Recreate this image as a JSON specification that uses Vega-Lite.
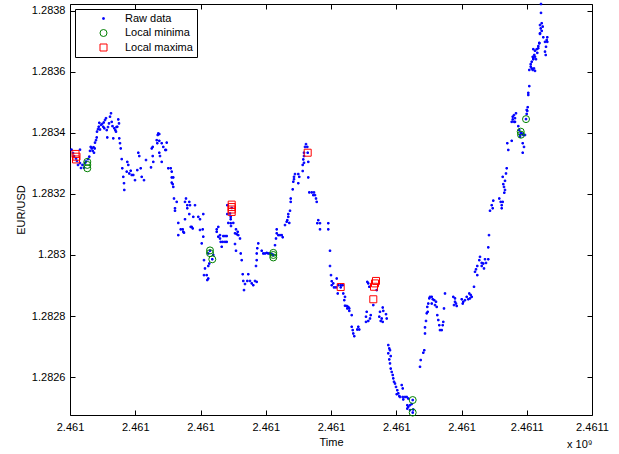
{
  "$schema": "https://vega.github.io/schema/vega-lite/v6.json",
  "width": 522,
  "height": 411,
  "autosize": {"type": "none"},
  "padding": {"left": 70, "top": 4, "right": 27, "bottom": 39},
  "background": "white",
  "config": {
    "font": "Liberation Sans",
    "view": {"stroke": "black", "strokeWidth": 1},
    "axis": {"grid": false, "domain": false, "tickSize": -5, "tickColor": "black", "tickWidth": 1, "labelFontSize": 11, "labelColor": "black", "labelFont": "Liberation Sans", "titleFont": "Liberation Sans", "titleFontSize": 11, "titleFontWeight": "normal", "titleColor": "black", "labelFlush": false, "labelOverlap": false},
    "legend": {"orient": "top-left", "offset": 5, "padding": 4, "rowPadding": 2.5, "strokeColor": "black", "fillColor": "white", "labelFontSize": 11, "labelFont": "Liberation Sans", "labelColor": "black", "symbolSize": 49, "symbolStrokeWidth": 1, "symbolOffset": 19, "labelOffset": 16, "cornerRadius": 0, "labelLimit": 300}
  },
  "data": {"values": [
    {"t":2461005150,"p":1.283345,"s":"Raw data"},
    {"t":2461005300,"p":1.283334,"s":"Raw data"},
    {"t":2461005400,"p":1.283324,"s":"Raw data"},
    {"t":2461005600,"p":1.283316,"s":"Raw data"},
    {"t":2461005700,"p":1.283308,"s":"Raw data"},
    {"t":2461005800,"p":1.283295,"s":"Raw data"},
    {"t":2461006000,"p":1.283345,"s":"Raw data"},
    {"t":2461006000,"p":1.283301,"s":"Raw data"},
    {"t":2461006100,"p":1.283285,"s":"Raw data"},
    {"t":2461006250,"p":1.283295,"s":"Raw data"},
    {"t":2461006400,"p":1.283286,"s":"Raw data"},
    {"t":2461006500,"p":1.283301,"s":"Raw data"},
    {"t":2461006600,"p":1.283306,"s":"Raw data"},
    {"t":2461006800,"p":1.283314,"s":"Raw data"},
    {"t":2461006930,"p":1.283322,"s":"Raw data"},
    {"t":2461007000,"p":1.283341,"s":"Raw data"},
    {"t":2461007070,"p":1.283354,"s":"Raw data"},
    {"t":2461007170,"p":1.283349,"s":"Raw data"},
    {"t":2461007270,"p":1.283341,"s":"Raw data"},
    {"t":2461007350,"p":1.283353,"s":"Raw data"},
    {"t":2461007400,"p":1.283335,"s":"Raw data"},
    {"t":2461007470,"p":1.283349,"s":"Raw data"},
    {"t":2461007500,"p":1.283368,"s":"Raw data"},
    {"t":2461007600,"p":1.283376,"s":"Raw data"},
    {"t":2461007670,"p":1.283385,"s":"Raw data"},
    {"t":2461007700,"p":1.283404,"s":"Raw data"},
    {"t":2461007800,"p":1.283412,"s":"Raw data"},
    {"t":2461007870,"p":1.28342,"s":"Raw data"},
    {"t":2461007930,"p":1.283433,"s":"Raw data"},
    {"t":2461008000,"p":1.283411,"s":"Raw data"},
    {"t":2461008100,"p":1.283426,"s":"Raw data"},
    {"t":2461008200,"p":1.283429,"s":"Raw data"},
    {"t":2461008330,"p":1.28342,"s":"Raw data"},
    {"t":2461008370,"p":1.283434,"s":"Raw data"},
    {"t":2461008430,"p":1.283415,"s":"Raw data"},
    {"t":2461008500,"p":1.283442,"s":"Raw data"},
    {"t":2461008600,"p":1.283448,"s":"Raw data"},
    {"t":2461008670,"p":1.283409,"s":"Raw data"},
    {"t":2461008730,"p":1.283385,"s":"Raw data"},
    {"t":2461008800,"p":1.283419,"s":"Raw data"},
    {"t":2461008900,"p":1.283431,"s":"Raw data"},
    {"t":2461009000,"p":1.283453,"s":"Raw data"},
    {"t":2461009100,"p":1.283464,"s":"Raw data"},
    {"t":2461009170,"p":1.283436,"s":"Raw data"},
    {"t":2461009250,"p":1.283422,"s":"Raw data"},
    {"t":2461009330,"p":1.283382,"s":"Raw data"},
    {"t":2461009430,"p":1.283415,"s":"Raw data"},
    {"t":2461009530,"p":1.283409,"s":"Raw data"},
    {"t":2461009600,"p":1.283404,"s":"Raw data"},
    {"t":2461009650,"p":1.283419,"s":"Raw data"},
    {"t":2461009730,"p":1.28342,"s":"Raw data"},
    {"t":2461009830,"p":1.283444,"s":"Raw data"},
    {"t":2461009900,"p":1.283431,"s":"Raw data"},
    {"t":2461009930,"p":1.283382,"s":"Raw data"},
    {"t":2461010000,"p":1.283366,"s":"Raw data"},
    {"t":2461010070,"p":1.283349,"s":"Raw data"},
    {"t":2461010170,"p":1.283314,"s":"Raw data"},
    {"t":2461010230,"p":1.283284,"s":"Raw data"},
    {"t":2461010330,"p":1.283256,"s":"Raw data"},
    {"t":2461010400,"p":1.283235,"s":"Raw data"},
    {"t":2461010430,"p":1.283213,"s":"Raw data"},
    {"t":2461010670,"p":1.283273,"s":"Raw data"},
    {"t":2461010730,"p":1.283305,"s":"Raw data"},
    {"t":2461010830,"p":1.283295,"s":"Raw data"},
    {"t":2461010930,"p":1.283267,"s":"Raw data"},
    {"t":2461011070,"p":1.283276,"s":"Raw data"},
    {"t":2461011170,"p":1.283262,"s":"Raw data"},
    {"t":2461011330,"p":1.283262,"s":"Raw data"},
    {"t":2461011500,"p":1.283245,"s":"Raw data"},
    {"t":2461011730,"p":1.283278,"s":"Raw data"},
    {"t":2461011830,"p":1.283335,"s":"Raw data"},
    {"t":2461011930,"p":1.283324,"s":"Raw data"},
    {"t":2461012070,"p":1.283284,"s":"Raw data"},
    {"t":2461012170,"p":1.283256,"s":"Raw data"},
    {"t":2461012400,"p":1.283245,"s":"Raw data"},
    {"t":2461012600,"p":1.283311,"s":"Raw data"},
    {"t":2461013100,"p":1.283287,"s":"Raw data"},
    {"t":2461013170,"p":1.283349,"s":"Raw data"},
    {"t":2461013270,"p":1.283354,"s":"Raw data"},
    {"t":2461013270,"p":1.283324,"s":"Raw data"},
    {"t":2461013330,"p":1.283305,"s":"Raw data"},
    {"t":2461013670,"p":1.283376,"s":"Raw data"},
    {"t":2461013730,"p":1.283366,"s":"Raw data"},
    {"t":2461013770,"p":1.283393,"s":"Raw data"},
    {"t":2461013830,"p":1.283398,"s":"Raw data"},
    {"t":2461013930,"p":1.283396,"s":"Raw data"},
    {"t":2461013930,"p":1.283374,"s":"Raw data"},
    {"t":2461013930,"p":1.283335,"s":"Raw data"},
    {"t":2461014000,"p":1.283324,"s":"Raw data"},
    {"t":2461014170,"p":1.283366,"s":"Raw data"},
    {"t":2461014170,"p":1.283305,"s":"Raw data"},
    {"t":2461014330,"p":1.283354,"s":"Raw data"},
    {"t":2461014530,"p":1.283344,"s":"Raw data"},
    {"t":2461014670,"p":1.283368,"s":"Raw data"},
    {"t":2461014600,"p":1.283344,"s":"Raw data"},
    {"t":2461014830,"p":1.283284,"s":"Raw data"},
    {"t":2461015070,"p":1.283284,"s":"Raw data"},
    {"t":2461015170,"p":1.283273,"s":"Raw data"},
    {"t":2461015170,"p":1.283254,"s":"Raw data"},
    {"t":2461015330,"p":1.283254,"s":"Raw data"},
    {"t":2461015170,"p":1.283237,"s":"Raw data"},
    {"t":2461015270,"p":1.283232,"s":"Raw data"},
    {"t":2461015330,"p":1.283223,"s":"Raw data"},
    {"t":2461015400,"p":1.283185,"s":"Raw data"},
    {"t":2461015670,"p":1.283174,"s":"Raw data"},
    {"t":2461015500,"p":1.283153,"s":"Raw data"},
    {"t":2461015500,"p":1.283145,"s":"Raw data"},
    {"t":2461015830,"p":1.283105,"s":"Raw data"},
    {"t":2461015830,"p":1.283065,"s":"Raw data"},
    {"t":2461016070,"p":1.283084,"s":"Raw data"},
    {"t":2461016270,"p":1.283084,"s":"Raw data"},
    {"t":2461016330,"p":1.283076,"s":"Raw data"},
    {"t":2461016400,"p":1.283073,"s":"Raw data"},
    {"t":2461016500,"p":1.283174,"s":"Raw data"},
    {"t":2461016600,"p":1.283185,"s":"Raw data"},
    {"t":2461016500,"p":1.283117,"s":"Raw data"},
    {"t":2461016730,"p":1.283163,"s":"Raw data"},
    {"t":2461016730,"p":1.283153,"s":"Raw data"},
    {"t":2461016930,"p":1.283174,"s":"Raw data"},
    {"t":2461017000,"p":1.283163,"s":"Raw data"},
    {"t":2461016930,"p":1.283134,"s":"Raw data"},
    {"t":2461017070,"p":1.283092,"s":"Raw data"},
    {"t":2461017170,"p":1.283092,"s":"Raw data"},
    {"t":2461017270,"p":1.283087,"s":"Raw data"},
    {"t":2461017330,"p":1.283125,"s":"Raw data"},
    {"t":2461017500,"p":1.283163,"s":"Raw data"},
    {"t":2461017830,"p":1.283125,"s":"Raw data"},
    {"t":2461018000,"p":1.283117,"s":"Raw data"},
    {"t":2461018000,"p":1.283082,"s":"Raw data"},
    {"t":2461018270,"p":1.283084,"s":"Raw data"},
    {"t":2461018330,"p":1.283134,"s":"Raw data"},
    {"t":2461018330,"p":1.28306,"s":"Raw data"},
    {"t":2461018170,"p":1.283038,"s":"Raw data"},
    {"t":2461018400,"p":1.282983,"s":"Raw data"},
    {"t":2461018500,"p":1.282956,"s":"Raw data"},
    {"t":2461018400,"p":1.282934,"s":"Raw data"},
    {"t":2461018670,"p":1.282934,"s":"Raw data"},
    {"t":2461018730,"p":1.282918,"s":"Raw data"},
    {"t":2461018830,"p":1.282923,"s":"Raw data"},
    {"t":2461018830,"p":1.282964,"s":"Raw data"},
    {"t":2461018930,"p":1.282972,"s":"Raw data"},
    {"t":2461018830,"p":1.283005,"s":"Raw data"},
    {"t":2461019000,"p":1.283014,"s":"Raw data"},
    {"t":2461019330,"p":1.283,"s":"Raw data"},
    {"t":2461019230,"p":1.282986,"s":"Raw data"},
    {"t":2461019670,"p":1.283084,"s":"Raw data"},
    {"t":2461019670,"p":1.283076,"s":"Raw data"},
    {"t":2461019830,"p":1.283092,"s":"Raw data"},
    {"t":2461019830,"p":1.28306,"s":"Raw data"},
    {"t":2461020000,"p":1.283065,"s":"Raw data"},
    {"t":2461020000,"p":1.283054,"s":"Raw data"},
    {"t":2461020070,"p":1.283043,"s":"Raw data"},
    {"t":2461020170,"p":1.283027,"s":"Raw data"},
    {"t":2461020270,"p":1.283043,"s":"Raw data"},
    {"t":2461020330,"p":1.283062,"s":"Raw data"},
    {"t":2461020500,"p":1.283062,"s":"Raw data"},
    {"t":2461020500,"p":1.283043,"s":"Raw data"},
    {"t":2461020670,"p":1.283062,"s":"Raw data"},
    {"t":2461020670,"p":1.283043,"s":"Raw data"},
    {"t":2461020730,"p":1.283163,"s":"Raw data"},
    {"t":2461020730,"p":1.283134,"s":"Raw data"},
    {"t":2461020830,"p":1.283105,"s":"Raw data"},
    {"t":2461021000,"p":1.283136,"s":"Raw data"},
    {"t":2461021070,"p":1.283125,"s":"Raw data"},
    {"t":2461021070,"p":1.283117,"s":"Raw data"},
    {"t":2461021070,"p":1.283104,"s":"Raw data"},
    {"t":2461021100,"p":1.283095,"s":"Raw data"},
    {"t":2461021170,"p":1.283154,"s":"Raw data"},
    {"t":2461021330,"p":1.283105,"s":"Raw data"},
    {"t":2461021500,"p":1.283071,"s":"Raw data"},
    {"t":2461021600,"p":1.283084,"s":"Raw data"},
    {"t":2461021770,"p":1.283076,"s":"Raw data"},
    {"t":2461021670,"p":1.283068,"s":"Raw data"},
    {"t":2461021830,"p":1.283065,"s":"Raw data"},
    {"t":2461022000,"p":1.283054,"s":"Raw data"},
    {"t":2461021500,"p":1.283036,"s":"Raw data"},
    {"t":2461021600,"p":1.283014,"s":"Raw data"},
    {"t":2461022070,"p":1.283005,"s":"Raw data"},
    {"t":2461022170,"p":1.282983,"s":"Raw data"},
    {"t":2461022270,"p":1.282937,"s":"Raw data"},
    {"t":2461022330,"p":1.282915,"s":"Raw data"},
    {"t":2461022500,"p":1.282905,"s":"Raw data"},
    {"t":2461022730,"p":1.282915,"s":"Raw data"},
    {"t":2461022830,"p":1.282937,"s":"Raw data"},
    {"t":2461022400,"p":1.282885,"s":"Raw data"},
    {"t":2461023000,"p":1.282915,"s":"Raw data"},
    {"t":2461023170,"p":1.282907,"s":"Raw data"},
    {"t":2461023330,"p":1.282901,"s":"Raw data"},
    {"t":2461023500,"p":1.282915,"s":"Raw data"},
    {"t":2461023670,"p":1.282912,"s":"Raw data"},
    {"t":2461023600,"p":1.282964,"s":"Raw data"},
    {"t":2461023670,"p":1.282983,"s":"Raw data"},
    {"t":2461023670,"p":1.283005,"s":"Raw data"},
    {"t":2461023730,"p":1.283022,"s":"Raw data"},
    {"t":2461023830,"p":1.283038,"s":"Raw data"},
    {"t":2461024170,"p":1.283014,"s":"Raw data"},
    {"t":2461024330,"p":1.283005,"s":"Raw data"},
    {"t":2461024500,"p":1.283005,"s":"Raw data"},
    {"t":2461024670,"p":1.283007,"s":"Raw data"},
    {"t":2461024830,"p":1.283005,"s":"Raw data"},
    {"t":2461025000,"p":1.283005,"s":"Raw data"},
    {"t":2461025170,"p":1.283003,"s":"Raw data"},
    {"t":2461025330,"p":1.283,"s":"Raw data"},
    {"t":2461025500,"p":1.283032,"s":"Raw data"},
    {"t":2461025600,"p":1.283054,"s":"Raw data"},
    {"t":2461025670,"p":1.283071,"s":"Raw data"},
    {"t":2461025670,"p":1.283084,"s":"Raw data"},
    {"t":2461025830,"p":1.283065,"s":"Raw data"},
    {"t":2461026000,"p":1.283065,"s":"Raw data"},
    {"t":2461026170,"p":1.283065,"s":"Raw data"},
    {"t":2461026270,"p":1.283058,"s":"Raw data"},
    {"t":2461026500,"p":1.283098,"s":"Raw data"},
    {"t":2461026670,"p":1.283109,"s":"Raw data"},
    {"t":2461026730,"p":1.283114,"s":"Raw data"},
    {"t":2461026830,"p":1.283125,"s":"Raw data"},
    {"t":2461026830,"p":1.283134,"s":"Raw data"},
    {"t":2461026930,"p":1.283105,"s":"Raw data"},
    {"t":2461027000,"p":1.283145,"s":"Raw data"},
    {"t":2461027070,"p":1.283174,"s":"Raw data"},
    {"t":2461027070,"p":1.283185,"s":"Raw data"},
    {"t":2461027270,"p":1.283215,"s":"Raw data"},
    {"t":2461027330,"p":1.28324,"s":"Raw data"},
    {"t":2461027400,"p":1.283248,"s":"Raw data"},
    {"t":2461027400,"p":1.283256,"s":"Raw data"},
    {"t":2461027500,"p":1.283265,"s":"Raw data"},
    {"t":2461027830,"p":1.283265,"s":"Raw data"},
    {"t":2461027930,"p":1.283256,"s":"Raw data"},
    {"t":2461027830,"p":1.283235,"s":"Raw data"},
    {"t":2461028270,"p":1.283275,"s":"Raw data"},
    {"t":2461028270,"p":1.283295,"s":"Raw data"},
    {"t":2461028400,"p":1.283302,"s":"Raw data"},
    {"t":2461028330,"p":1.283313,"s":"Raw data"},
    {"t":2461028400,"p":1.283324,"s":"Raw data"},
    {"t":2461028400,"p":1.283335,"s":"Raw data"},
    {"t":2461028500,"p":1.283354,"s":"Raw data"},
    {"t":2461028600,"p":1.283363,"s":"Raw data"},
    {"t":2461028730,"p":1.283354,"s":"Raw data"},
    {"t":2461028770,"p":1.283335,"s":"Raw data"},
    {"t":2461028830,"p":1.283305,"s":"Raw data"},
    {"t":2461028830,"p":1.283254,"s":"Raw data"},
    {"t":2461028930,"p":1.283205,"s":"Raw data"},
    {"t":2461029170,"p":1.283205,"s":"Raw data"},
    {"t":2461029400,"p":1.283205,"s":"Raw data"},
    {"t":2461029330,"p":1.283196,"s":"Raw data"},
    {"t":2461029500,"p":1.283196,"s":"Raw data"},
    {"t":2461029600,"p":1.283185,"s":"Raw data"},
    {"t":2461029670,"p":1.283174,"s":"Raw data"},
    {"t":2461029830,"p":1.283114,"s":"Raw data"},
    {"t":2461029730,"p":1.283104,"s":"Raw data"},
    {"t":2461030000,"p":1.283104,"s":"Raw data"},
    {"t":2461030000,"p":1.283084,"s":"Raw data"},
    {"t":2461030830,"p":1.283104,"s":"Raw data"},
    {"t":2461030830,"p":1.283084,"s":"Raw data"},
    {"t":2461031000,"p":1.283014,"s":"Raw data"},
    {"t":2461031000,"p":1.282964,"s":"Raw data"},
    {"t":2461031100,"p":1.282934,"s":"Raw data"},
    {"t":2461031170,"p":1.282914,"s":"Raw data"},
    {"t":2461031330,"p":1.282907,"s":"Raw data"},
    {"t":2461031170,"p":1.282901,"s":"Raw data"},
    {"t":2461031400,"p":1.282894,"s":"Raw data"},
    {"t":2461031600,"p":1.282894,"s":"Raw data"},
    {"t":2461031670,"p":1.282923,"s":"Raw data"},
    {"t":2461031830,"p":1.282901,"s":"Raw data"},
    {"t":2461032070,"p":1.282901,"s":"Raw data"},
    {"t":2461032070,"p":1.282894,"s":"Raw data"},
    {"t":2461032270,"p":1.282901,"s":"Raw data"},
    {"t":2461031770,"p":1.282874,"s":"Raw data"},
    {"t":2461032330,"p":1.282874,"s":"Raw data"},
    {"t":2461032500,"p":1.282863,"s":"Raw data"},
    {"t":2461032430,"p":1.282852,"s":"Raw data"},
    {"t":2461032500,"p":1.282834,"s":"Raw data"},
    {"t":2461032670,"p":1.282833,"s":"Raw data"},
    {"t":2461032830,"p":1.28283,"s":"Raw data"},
    {"t":2461032930,"p":1.282825,"s":"Raw data"},
    {"t":2461032730,"p":1.282825,"s":"Raw data"},
    {"t":2461032930,"p":1.282817,"s":"Raw data"},
    {"t":2461033170,"p":1.282803,"s":"Raw data"},
    {"t":2461033170,"p":1.282765,"s":"Raw data"},
    {"t":2461033270,"p":1.282754,"s":"Raw data"},
    {"t":2461033330,"p":1.282743,"s":"Raw data"},
    {"t":2461033430,"p":1.282734,"s":"Raw data"},
    {"t":2461033730,"p":1.282756,"s":"Raw data"},
    {"t":2461033830,"p":1.282765,"s":"Raw data"},
    {"t":2461033930,"p":1.282756,"s":"Raw data"},
    {"t":2461034600,"p":1.282798,"s":"Raw data"},
    {"t":2461034670,"p":1.282814,"s":"Raw data"},
    {"t":2461034600,"p":1.282781,"s":"Raw data"},
    {"t":2461034830,"p":1.282784,"s":"Raw data"},
    {"t":2461035000,"p":1.282792,"s":"Raw data"},
    {"t":2461035070,"p":1.282803,"s":"Raw data"},
    {"t":2461034730,"p":1.282912,"s":"Raw data"},
    {"t":2461034830,"p":1.282907,"s":"Raw data"},
    {"t":2461034930,"p":1.282896,"s":"Raw data"},
    {"t":2461035330,"p":1.282836,"s":"Raw data"},
    {"t":2461035670,"p":1.282885,"s":"Raw data"},
    {"t":2461036000,"p":1.282814,"s":"Raw data"},
    {"t":2461035930,"p":1.282798,"s":"Raw data"},
    {"t":2461036070,"p":1.282784,"s":"Raw data"},
    {"t":2461036170,"p":1.282792,"s":"Raw data"},
    {"t":2461036270,"p":1.282828,"s":"Raw data"},
    {"t":2461036330,"p":1.282817,"s":"Raw data"},
    {"t":2461036270,"p":1.282781,"s":"Raw data"},
    {"t":2461036600,"p":1.282806,"s":"Raw data"},
    {"t":2461036670,"p":1.282792,"s":"Raw data"},
    {"t":2461036830,"p":1.282705,"s":"Raw data"},
    {"t":2461036930,"p":1.282694,"s":"Raw data"},
    {"t":2461037000,"p":1.282688,"s":"Raw data"},
    {"t":2461036830,"p":1.282678,"s":"Raw data"},
    {"t":2461037070,"p":1.282669,"s":"Raw data"},
    {"t":2461036930,"p":1.282658,"s":"Raw data"},
    {"t":2461037000,"p":1.282645,"s":"Raw data"},
    {"t":2461037070,"p":1.282628,"s":"Raw data"},
    {"t":2461037170,"p":1.282617,"s":"Raw data"},
    {"t":2461037270,"p":1.282607,"s":"Raw data"},
    {"t":2461037330,"p":1.282596,"s":"Raw data"},
    {"t":2461037400,"p":1.282585,"s":"Raw data"},
    {"t":2461037500,"p":1.282579,"s":"Raw data"},
    {"t":2461037600,"p":1.282568,"s":"Raw data"},
    {"t":2461037730,"p":1.282557,"s":"Raw data"},
    {"t":2461037830,"p":1.282547,"s":"Raw data"},
    {"t":2461037670,"p":1.282544,"s":"Raw data"},
    {"t":2461037930,"p":1.282538,"s":"Raw data"},
    {"t":2461038170,"p":1.282574,"s":"Raw data"},
    {"t":2461038270,"p":1.282563,"s":"Raw data"},
    {"t":2461038000,"p":1.282535,"s":"Raw data"},
    {"t":2461038270,"p":1.282535,"s":"Raw data"},
    {"t":2461038500,"p":1.282535,"s":"Raw data"},
    {"t":2461038670,"p":1.282535,"s":"Raw data"},
    {"t":2461038830,"p":1.28253,"s":"Raw data"},
    {"t":2461038330,"p":1.282527,"s":"Raw data"},
    {"t":2461039270,"p":1.282525,"s":"Raw data"},
    {"t":2461038730,"p":1.282508,"s":"Raw data"},
    {"t":2461038830,"p":1.282503,"s":"Raw data"},
    {"t":2461039000,"p":1.282508,"s":"Raw data"},
    {"t":2461039170,"p":1.282512,"s":"Raw data"},
    {"t":2461038730,"p":1.282497,"s":"Raw data"},
    {"t":2461039000,"p":1.282492,"s":"Raw data"},
    {"t":2461039330,"p":1.282494,"s":"Raw data"},
    {"t":2461039270,"p":1.282484,"s":"Raw data"},
    {"t":2461040000,"p":1.282634,"s":"Raw data"},
    {"t":2461040070,"p":1.282656,"s":"Raw data"},
    {"t":2461040330,"p":1.28268,"s":"Raw data"},
    {"t":2461040430,"p":1.282688,"s":"Raw data"},
    {"t":2461040500,"p":1.282743,"s":"Raw data"},
    {"t":2461040500,"p":1.282763,"s":"Raw data"},
    {"t":2461040600,"p":1.282784,"s":"Raw data"},
    {"t":2461040670,"p":1.282809,"s":"Raw data"},
    {"t":2461040770,"p":1.282814,"s":"Raw data"},
    {"t":2461040730,"p":1.28283,"s":"Raw data"},
    {"t":2461040830,"p":1.282841,"s":"Raw data"},
    {"t":2461040930,"p":1.282858,"s":"Raw data"},
    {"t":2461041000,"p":1.282863,"s":"Raw data"},
    {"t":2461041170,"p":1.282863,"s":"Raw data"},
    {"t":2461041270,"p":1.282855,"s":"Raw data"},
    {"t":2461041170,"p":1.282841,"s":"Raw data"},
    {"t":2461041430,"p":1.282852,"s":"Raw data"},
    {"t":2461041600,"p":1.282847,"s":"Raw data"},
    {"t":2461041500,"p":1.282836,"s":"Raw data"},
    {"t":2461041670,"p":1.28283,"s":"Raw data"},
    {"t":2461041730,"p":1.282803,"s":"Raw data"},
    {"t":2461041830,"p":1.282787,"s":"Raw data"},
    {"t":2461041930,"p":1.28277,"s":"Raw data"},
    {"t":2461042000,"p":1.282754,"s":"Raw data"},
    {"t":2461042170,"p":1.282754,"s":"Raw data"},
    {"t":2461042270,"p":1.28277,"s":"Raw data"},
    {"t":2461042330,"p":1.282781,"s":"Raw data"},
    {"t":2461042400,"p":1.282825,"s":"Raw data"},
    {"t":2461042500,"p":1.282874,"s":"Raw data"},
    {"t":2461043330,"p":1.282863,"s":"Raw data"},
    {"t":2461043500,"p":1.282858,"s":"Raw data"},
    {"t":2461043500,"p":1.282847,"s":"Raw data"},
    {"t":2461043600,"p":1.282841,"s":"Raw data"},
    {"t":2461043400,"p":1.282836,"s":"Raw data"},
    {"t":2461043670,"p":1.282833,"s":"Raw data"},
    {"t":2461044170,"p":1.282855,"s":"Raw data"},
    {"t":2461044330,"p":1.282847,"s":"Raw data"},
    {"t":2461044270,"p":1.282841,"s":"Raw data"},
    {"t":2461044500,"p":1.282852,"s":"Raw data"},
    {"t":2461044670,"p":1.282863,"s":"Raw data"},
    {"t":2461044830,"p":1.282855,"s":"Raw data"},
    {"t":2461044930,"p":1.282874,"s":"Raw data"},
    {"t":2461045070,"p":1.282869,"s":"Raw data"},
    {"t":2461045170,"p":1.282863,"s":"Raw data"},
    {"t":2461045000,"p":1.282858,"s":"Raw data"},
    {"t":2461045400,"p":1.282896,"s":"Raw data"},
    {"t":2461045500,"p":1.282945,"s":"Raw data"},
    {"t":2461045600,"p":1.282953,"s":"Raw data"},
    {"t":2461045730,"p":1.282934,"s":"Raw data"},
    {"t":2461045730,"p":1.282964,"s":"Raw data"},
    {"t":2461045930,"p":1.282983,"s":"Raw data"},
    {"t":2461046000,"p":1.282994,"s":"Raw data"},
    {"t":2461046170,"p":1.282974,"s":"Raw data"},
    {"t":2461046170,"p":1.282964,"s":"Raw data"},
    {"t":2461046330,"p":1.282972,"s":"Raw data"},
    {"t":2461046400,"p":1.282956,"s":"Raw data"},
    {"t":2461046600,"p":1.282974,"s":"Raw data"},
    {"t":2461046500,"p":1.282986,"s":"Raw data"},
    {"t":2461046830,"p":1.282986,"s":"Raw data"},
    {"t":2461046830,"p":1.283025,"s":"Raw data"},
    {"t":2461046900,"p":1.283065,"s":"Raw data"},
    {"t":2461047000,"p":1.283145,"s":"Raw data"},
    {"t":2461047170,"p":1.283163,"s":"Raw data"},
    {"t":2461047270,"p":1.283153,"s":"Raw data"},
    {"t":2461047330,"p":1.283178,"s":"Raw data"},
    {"t":2461047930,"p":1.283185,"s":"Raw data"},
    {"t":2461048070,"p":1.283174,"s":"Raw data"},
    {"t":2461048270,"p":1.283174,"s":"Raw data"},
    {"t":2461048170,"p":1.283163,"s":"Raw data"},
    {"t":2461048170,"p":1.283153,"s":"Raw data"},
    {"t":2461048270,"p":1.283256,"s":"Raw data"},
    {"t":2461048330,"p":1.283232,"s":"Raw data"},
    {"t":2461048400,"p":1.283223,"s":"Raw data"},
    {"t":2461048500,"p":1.283213,"s":"Raw data"},
    {"t":2461048430,"p":1.283204,"s":"Raw data"},
    {"t":2461048500,"p":1.283243,"s":"Raw data"},
    {"t":2461048600,"p":1.283267,"s":"Raw data"},
    {"t":2461048670,"p":1.283284,"s":"Raw data"},
    {"t":2461048730,"p":1.283366,"s":"Raw data"},
    {"t":2461048830,"p":1.283344,"s":"Raw data"},
    {"t":2461049170,"p":1.283374,"s":"Raw data"},
    {"t":2461049270,"p":1.283453,"s":"Raw data"},
    {"t":2461049400,"p":1.283458,"s":"Raw data"},
    {"t":2461049500,"p":1.283436,"s":"Raw data"},
    {"t":2461049600,"p":1.283464,"s":"Raw data"},
    {"t":2461049830,"p":1.283422,"s":"Raw data"},
    {"t":2461049930,"p":1.283409,"s":"Raw data"},
    {"t":2461050000,"p":1.283393,"s":"Raw data"},
    {"t":2461050170,"p":1.283398,"s":"Raw data"},
    {"t":2461050270,"p":1.283366,"s":"Raw data"},
    {"t":2461050400,"p":1.283354,"s":"Raw data"},
    {"t":2461050270,"p":1.283335,"s":"Raw data"},
    {"t":2461050500,"p":1.283393,"s":"Raw data"},
    {"t":2461050600,"p":1.283445,"s":"Raw data"},
    {"t":2461050670,"p":1.283475,"s":"Raw data"},
    {"t":2461050770,"p":1.283484,"s":"Raw data"},
    {"t":2461050670,"p":1.283462,"s":"Raw data"},
    {"t":2461050830,"p":1.283531,"s":"Raw data"},
    {"t":2461050930,"p":1.283553,"s":"Raw data"},
    {"t":2461050930,"p":1.283606,"s":"Raw data"},
    {"t":2461051070,"p":1.283617,"s":"Raw data"},
    {"t":2461051170,"p":1.283633,"s":"Raw data"},
    {"t":2461051270,"p":1.283606,"s":"Raw data"},
    {"t":2461051330,"p":1.283644,"s":"Raw data"},
    {"t":2461051400,"p":1.283611,"s":"Raw data"},
    {"t":2461051430,"p":1.283655,"s":"Raw data"},
    {"t":2461051500,"p":1.283669,"s":"Raw data"},
    {"t":2461051670,"p":1.283674,"s":"Raw data"},
    {"t":2461051730,"p":1.283662,"s":"Raw data"},
    {"t":2461051830,"p":1.283677,"s":"Raw data"},
    {"t":2461051930,"p":1.283693,"s":"Raw data"},
    {"t":2461052000,"p":1.283726,"s":"Raw data"},
    {"t":2461052070,"p":1.283742,"s":"Raw data"},
    {"t":2461052170,"p":1.283759,"s":"Raw data"},
    {"t":2461052270,"p":1.283748,"s":"Raw data"},
    {"t":2461052330,"p":1.283713,"s":"Raw data"},
    {"t":2461052500,"p":1.283698,"s":"Raw data"},
    {"t":2461052600,"p":1.283682,"s":"Raw data"},
    {"t":2461052730,"p":1.283713,"s":"Raw data"},
    {"t":2461052670,"p":1.283704,"s":"Raw data"},
    {"t":2461052500,"p":1.283666,"s":"Raw data"},
    {"t":2461052570,"p":1.283655,"s":"Raw data"},
    {"t":2461052100,"p":1.283793,"s":"Raw data"},
    {"t":2461052100,"p":1.283822,"s":"Raw data"},
    {"t":2461051330,"p":1.283674,"s":"Raw data"},
    {"t":2461051270,"p":1.283649,"s":"Raw data"},
    {"t":2461051500,"p":1.283649,"s":"Raw data"},
    {"t":2461051600,"p":1.283641,"s":"Raw data"},
    {"t":2461051330,"p":1.283641,"s":"Raw data"},
    {"t":2461051070,"p":1.283625,"s":"Raw data"},
    {"t":2461051170,"p":1.283611,"s":"Raw data"},
    {"t":2461051500,"p":1.283603,"s":"Raw data"},
    {"t":2461052000,"p":1.283753,"s":"Raw data"},
    {"t":2461052170,"p":1.283734,"s":"Raw data"},
    {"t":2461052000,"p":1.283724,"s":"Raw data"},
    {"t":2461052730,"p":1.283698,"s":"Raw data"},
    {"t":2461051930,"p":1.283695,"s":"Raw data"},
    {"t":2461051830,"p":1.283684,"s":"Raw data"},
    {"t":2461049270,"p":1.283444,"s":"Raw data"},
    {"t":2461049170,"p":1.283436,"s":"Raw data"},
    {"t":2461049430,"p":1.283436,"s":"Raw data"},
    {"t":2461049500,"p":1.283448,"s":"Raw data"},
    {"t":2461050070,"p":1.2834,"s":"Raw data"},
    {"t":2461050330,"p":1.283393,"s":"Raw data"},
    {"t":2461050000,"p":1.283387,"s":"Raw data"},
    {"t":2461050830,"p":1.283524,"s":"Raw data"},
    {"t":2461050730,"p":1.283472,"s":"Raw data"},
    {"t":2461006730,"p":1.283305,"s":"Local minima"},
    {"t":2461006730,"p":1.283295,"s":"Local minima"},
    {"t":2461006730,"p":1.283284,"s":"Local minima"},
    {"t":2461019000,"p":1.283015,"s":"Local minima"},
    {"t":2461019000,"p":1.283006,"s":"Local minima"},
    {"t":2461019230,"p":1.282986,"s":"Local minima"},
    {"t":2461025330,"p":1.283007,"s":"Local minima"},
    {"t":2461025330,"p":1.283,"s":"Local minima"},
    {"t":2461025330,"p":1.282992,"s":"Local minima"},
    {"t":2461039270,"p":1.282525,"s":"Local minima"},
    {"t":2461039270,"p":1.282484,"s":"Local minima"},
    {"t":2461050070,"p":1.283404,"s":"Local minima"},
    {"t":2461050100,"p":1.283394,"s":"Local minima"},
    {"t":2461050600,"p":1.283445,"s":"Local minima"},
    {"t":2461005550,"p":1.283331,"s":"Local maxima"},
    {"t":2461005650,"p":1.283322,"s":"Local maxima"},
    {"t":2461005600,"p":1.283313,"s":"Local maxima"},
    {"t":2461021170,"p":1.283165,"s":"Local maxima"},
    {"t":2461021170,"p":1.283157,"s":"Local maxima"},
    {"t":2461021170,"p":1.283149,"s":"Local maxima"},
    {"t":2461021170,"p":1.283141,"s":"Local maxima"},
    {"t":2461028770,"p":1.283335,"s":"Local maxima"},
    {"t":2461032070,"p":1.282895,"s":"Local maxima"},
    {"t":2461035600,"p":1.282915,"s":"Local maxima"},
    {"t":2461035500,"p":1.282907,"s":"Local maxima"},
    {"t":2461035400,"p":1.282896,"s":"Local maxima"},
    {"t":2461035330,"p":1.282855,"s":"Local maxima"}
  ]},
  "layer": [
    {
      "mark": {"type": "point", "size": 49, "strokeWidth": 1, "opacity": 1},
      "encoding": {
        "x": {"field": "t", "type": "quantitative",
          "scale": {"domain": [2461005000, 2461057200], "nice": false, "zero": false},
          "axis": {"orient": "bottom", "values": [2461005000, 2461011525, 2461018050, 2461024575, 2461031100, 2461037625, 2461044150, 2461050675, 2461057200], "labelExpr": "format(datum.value / 1e9, '.5~g')", "labelPadding": 11, "title": "Time", "titlePadding": 4}},
        "y": {"field": "p", "type": "quantitative",
          "scale": {"domain": [1.282476, 1.283822], "nice": false, "zero": false},
          "axis": {"orient": "left", "values": [1.2826, 1.2828, 1.283, 1.2832, 1.2834, 1.2836, 1.2838], "format": ".5~g", "labelPadding": 10, "title": "EUR/USD", "titlePadding": 5}},
        "shape": {"field": "s", "type": "nominal",
          "scale": {"domain": ["Raw data", "Local minima", "Local maxima"], "range": ["M-0.22,-0.22H0.22V0.22H-0.22Z", "circle", "square"]},
          "legend": {"title": null}},
        "fill": {"field": "s", "type": "nominal",
          "scale": {"domain": ["Raw data", "Local minima", "Local maxima"], "range": ["#0000ff", "transparent", "transparent"]},
          "legend": {"title": null}},
        "stroke": {"field": "s", "type": "nominal",
          "scale": {"domain": ["Raw data", "Local minima", "Local maxima"], "range": ["#0000ff", "#008000", "#ff0000"]},
          "legend": {"title": null}}
      }
    },
    {
      "transform": [{"filter": "datum.s === 'Local maxima'"}],
      "mark": {"type": "point", "opacity": 0},
      "encoding": {
        "x": {"field": "t", "type": "quantitative",
          "scale": {"domain": [2461005000, 2461057200], "nice": false, "zero": false},
          "axis": {"orient": "top", "values": [2461005000, 2461011525, 2461018050, 2461024575, 2461031100, 2461037625, 2461044150, 2461050675, 2461057200], "labels": false, "title": null}},
        "y": {"field": "p", "type": "quantitative",
          "scale": {"domain": [1.282476, 1.283822], "nice": false, "zero": false},
          "axis": {"orient": "right", "values": [1.2826, 1.2828, 1.283, 1.2832, 1.2834, 1.2836, 1.2838], "labels": false, "title": null}}
      }
    },
    {
      "transform": [{"filter": "datum.s === 'Local maxima'"}],
      "mark": {"type": "point", "opacity": 0},
      "encoding": {
        "x": {"field": "t", "type": "quantitative",
          "scale": {"domain": [2461005000, 2461057200], "nice": false, "zero": false},
          "axis": {"orient": "bottom", "labels": false, "ticks": false, "title": "x 10⁹", "titleAnchor": "end", "titlePadding": 23}},
        "y": {"field": "p", "type": "quantitative",
          "scale": {"domain": [1.282476, 1.283822], "nice": false, "zero": false},
          "axis": null}
      }
    }
  ],
  "resolve": {"axis": {"x": "independent", "y": "independent"}}
}
